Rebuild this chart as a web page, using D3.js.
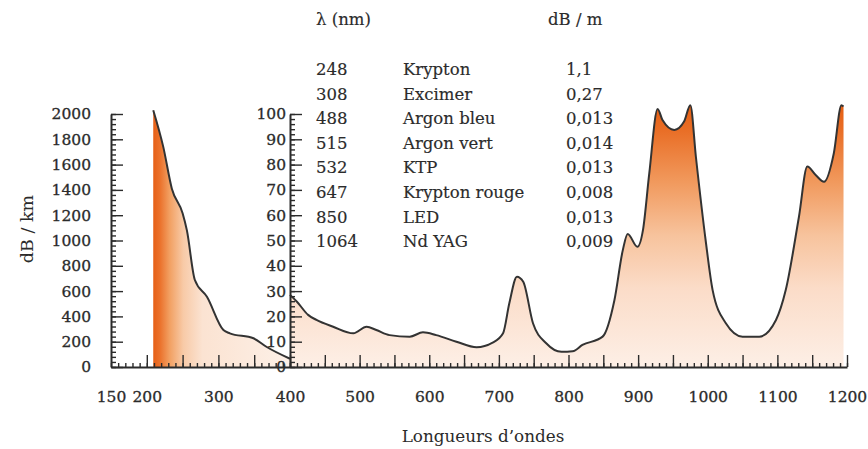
<!DOCTYPE html>
<html>
<head>
<meta charset="utf-8">
<script src="https://cdn.jsdelivr.net/npm/d3@7"></script>
<style>
    body { margin: 0; background: #fff; }
    svg { display: block; }
</style>
</head>
<body>
<div id="chart"></div>
<script>
// wavelength (nm) / attenuation in dB/km, UV part (left panel)
var uvWave = [209, 223, 235, 250, 256, 267, 284, 307, 316, 349, 367, 400];
var uvLoss = [2030, 1740, 1410, 1215, 1080, 690, 555, 292, 266, 227, 160, 65];

// visible / IR part (right panel), dB/km
var irWave = [400, 410, 426, 438, 462, 491, 510, 524, 543, 572, 591, 610, 639, 668, 691, 706,
    715, 726, 735, 749, 768, 790, 806, 820, 849, 866, 878, 885, 899, 907, 916, 928, 935, 952,
    966, 975, 983, 997, 1007, 1026, 1050, 1074, 1098, 1112, 1131, 1143, 1155, 1167, 1181, 1192, 1195];
var irLoss = [28.5, 25.8, 20.6, 18.6, 15.9, 13.3, 15.9, 14.6, 12.6, 12.0, 13.7, 12.6, 10.0, 7.8, 9.6, 13.3,
    25.2, 35.7, 33.7, 17.3, 9.4, 6.0, 6.2, 8.7, 12.0, 26.5, 46.2, 52.6, 47.5, 54.2, 76.5, 102, 97.6, 93.7,
    97, 103.5, 83, 50, 30.4, 17.3, 12.0, 12.0, 18.6, 30.4, 59.4, 79.2, 75.9, 73.2, 84.4, 103.5, 103];

// table of laser sources
var tableHead = ["\u03bb (nm)", "dB / m"];
var laserWave = ["248", "308", "488", "515", "532", "647", "850", "1064"];
var laserName = ["Krypton", "Excimer", "Argon bleu", "Argon vert", "KTP", "Krypton rouge", "LED", "Nd YAG"];
var laserLoss = ["1,1", "0,27", "0,013", "0,014", "0,013", "0,008", "0,013", "0,009"];

var xLabelsLeft = [150, 200, 300, 400];
var xLabelsRight = [500, 600, 700, 800, 900, 1000, 1100, 1200];
var yTicksLeft = [0, 200, 400, 600, 800, 1000, 1200, 1400, 1600, 1800, 2000];
var yTicksRight = [0, 10, 20, 30, 40, 50, 60, 70, 80, 90, 100];

var totalWidth = 868,
    totalHeight = 449,
    x0 = 111,
    xMid = 290,
    x1 = 847,
    yTop = 114,
    yBase = 367;

var serif = "DejaVu Serif";
var ink = "#2b2b2b";
var fmt = d3.format("d");

var xL = d3.scaleLinear().domain([150, 400]).range([x0, xMid]),
    xR = d3.scaleLinear().domain([400, 1200]).range([xMid, x1]),
    yL = d3.scaleLinear().domain([0, 2000]).range([yBase, yTop]),
    yR = d3.scaleLinear().domain([0, 100]).range([yBase, yTop]);

var svg = d3.select("#chart").append("svg")
    .attr("width", totalWidth)
    .attr("height", totalHeight);

var defs = svg.append("defs");

// horizontal fade for the UV part
var gL = defs.append("linearGradient")
    .attr("id", "gradL")
    .attr("gradientUnits", "userSpaceOnUse")
    .attr("x1", xL(uvWave[0])).attr("x2", xMid)
    .attr("y1", 0).attr("y2", 0);
[[0, "#e65f16"], [0.05, "#eb722c"], [0.12, "#f2a062"], [0.22, "#f8caa7"], [0.36, "#fbe3d2"], [1, "#fdf0e7"]]
    .forEach(function(s) {
        gL.append("stop").attr("offset", s[0]).attr("stop-color", s[1]);
    });

// vertical fade for the visible / IR part
var gR = defs.append("linearGradient")
    .attr("id", "gradR")
    .attr("gradientUnits", "userSpaceOnUse")
    .attr("x1", 0).attr("x2", 0)
    .attr("y1", yR(104)).attr("y2", yBase);
[[0, "#e55e12"], [0.1, "#e96e26"], [0.3, "#f19a5e"], [0.5, "#f7c39d"], [0.7, "#fbdcc8"], [1, "#fdefe6"]]
    .forEach(function(s) {
        gR.append("stop").attr("offset", s[0]).attr("stop-color", s[1]);
    });

var uvData = uvWave.map(function(d, i) { return [d, uvLoss[i]]; });
var irData = irWave.map(function(d, i) { return [d, irLoss[i]]; });

var areaL = d3.area()
    .x(function(d) { return xL(d[0]); })
    .y0(yBase)
    .y1(function(d) { return yL(d[1]); })
    .curve(d3.curveMonotoneX);
var lineL = d3.line()
    .x(function(d) { return xL(d[0]); })
    .y(function(d) { return yL(d[1]); })
    .curve(d3.curveMonotoneX);

var areaR = d3.area()
    .x(function(d) { return xR(d[0]); })
    .y0(yBase)
    .y1(function(d) { return yR(d[1]); })
    .curve(d3.curveMonotoneX);
var lineR = d3.line()
    .x(function(d) { return xR(d[0]); })
    .y(function(d) { return yR(d[1]); })
    .curve(d3.curveMonotoneX);

svg.append("path").datum(uvData).attr("d", areaL).attr("fill", "url(#gradL)");
svg.append("path").datum(irData).attr("d", areaR).attr("fill", "url(#gradR)");

svg.append("path").datum(uvData).attr("d", lineL)
    .attr("fill", "none").attr("stroke", "#333").attr("stroke-width", 2);
svg.append("path").datum(irData).attr("d", lineR)
    .attr("fill", "none").attr("stroke", "#333").attr("stroke-width", 2);

function styleAxis(g, removeDomain) {
    g.attr("font-family", serif).attr("font-size", 15.5);
    g.selectAll("line").attr("stroke", ink).attr("stroke-width", 1.4);
    g.select(".domain").attr("stroke", ink).attr("stroke-width", 2);
    if (removeDomain) g.select(".domain").remove();
    g.selectAll("text")
        .attr("fill", ink)
        .attr("stroke", ink)
        .attr("stroke-width", 0.3);
}

// x axis : minor ticks every 10, major every 50, pointing inwards
svg.append("g").attr("transform", "translate(0," + yBase + ")")
    .call(d3.axisBottom(xL).tickValues(d3.range(150, 401, 10)).tickSizeInner(-4).tickSizeOuter(0).tickFormat(""))
    .call(styleAxis, false);
svg.append("g").attr("transform", "translate(0," + yBase + ")")
    .call(d3.axisBottom(xR).tickValues(d3.range(400, 1201, 10)).tickSizeInner(-4).tickSizeOuter(0).tickFormat(""))
    .call(styleAxis, false);
svg.append("g").attr("transform", "translate(0," + yBase + ")")
    .call(d3.axisBottom(xL).tickValues(d3.range(200, 401, 50)).tickSizeInner(-12).tickFormat(""))
    .call(styleAxis, true);
svg.append("g").attr("transform", "translate(0," + yBase + ")")
    .call(d3.axisBottom(xR).tickValues(d3.range(450, 1201, 50)).tickSizeInner(-12).tickFormat(""))
    .call(styleAxis, true);
svg.append("g").attr("transform", "translate(0," + yBase + ")")
    .call(d3.axisBottom(xL).tickValues(xLabelsLeft).tickSize(0).tickPadding(24).tickFormat(fmt))
    .call(styleAxis, true);
svg.append("g").attr("transform", "translate(0," + yBase + ")")
    .call(d3.axisBottom(xR).tickValues(xLabelsRight).tickSize(0).tickPadding(24).tickFormat(fmt))
    .call(styleAxis, true);

// y axes, ticks pointing right
svg.append("g").attr("transform", "translate(" + x0 + ",0)")
    .call(d3.axisRight(yL).tickValues(d3.range(0, 2001, 40)).tickSizeInner(5).tickSizeOuter(0).tickFormat(""))
    .call(styleAxis, false);
svg.append("g").attr("transform", "translate(" + x0 + ",0)")
    .call(d3.axisRight(yL).tickValues(yTicksLeft).tickSizeInner(12).tickFormat(""))
    .call(styleAxis, true);
svg.append("g").attr("transform", "translate(" + x0 + ",0)")
    .call(d3.axisLeft(yL).tickValues(yTicksLeft).tickSize(0).tickPadding(20).tickFormat(fmt))
    .call(styleAxis, true);

svg.append("g").attr("transform", "translate(" + xMid + ",0)")
    .call(d3.axisRight(yR).tickValues(d3.range(0, 101, 2)).tickSizeInner(5).tickSizeOuter(0).tickFormat(""))
    .call(styleAxis, false);
svg.append("g").attr("transform", "translate(" + xMid + ",0)")
    .call(d3.axisRight(yR).tickValues(yTicksRight).tickSizeInner(12).tickFormat(""))
    .call(styleAxis, true);
svg.append("g").attr("transform", "translate(" + xMid + ",0)")
    .call(d3.axisLeft(yR).tickValues(yTicksRight).tickSize(0).tickPadding(4).tickFormat(fmt))
    .call(styleAxis, true);

// axis titles
svg.append("text")
    .attr("x", 483).attr("y", 442)
    .attr("text-anchor", "middle")
    .attr("font-family", serif).attr("font-size", 16.8)
    .attr("fill", ink)
    .text("Longueurs d\u2019ondes");

svg.append("text")
    .attr("transform", "translate(33,229) rotate(-90)")
    .attr("text-anchor", "middle")
    .attr("font-family", serif).attr("font-size", 17.5)
    .attr("fill", ink)
    .text("dB / km");

// laser table
var colX = [316, 403, 566],
    rowY0 = 75,
    rowStep = 24.6;

var table = svg.append("g")
    .attr("font-family", serif)
    .attr("font-size", 16.5)
    .attr("fill", ink)
    .attr("stroke", ink)
    .attr("stroke-width", 0.15);

table.append("text").attr("x", colX[0]).attr("y", 25).text(tableHead[0]);
table.append("text").attr("x", 548).attr("y", 25).text(tableHead[1]);

laserWave.forEach(function(w, i) {
    var y = rowY0 + i * rowStep;
    table.append("text").attr("x", colX[0]).attr("y", y).text(w);
    table.append("text").attr("x", colX[1]).attr("y", y).text(laserName[i]);
    table.append("text").attr("x", colX[2]).attr("y", y).text(laserLoss[i]);
});
</script>
</body>
</html>
